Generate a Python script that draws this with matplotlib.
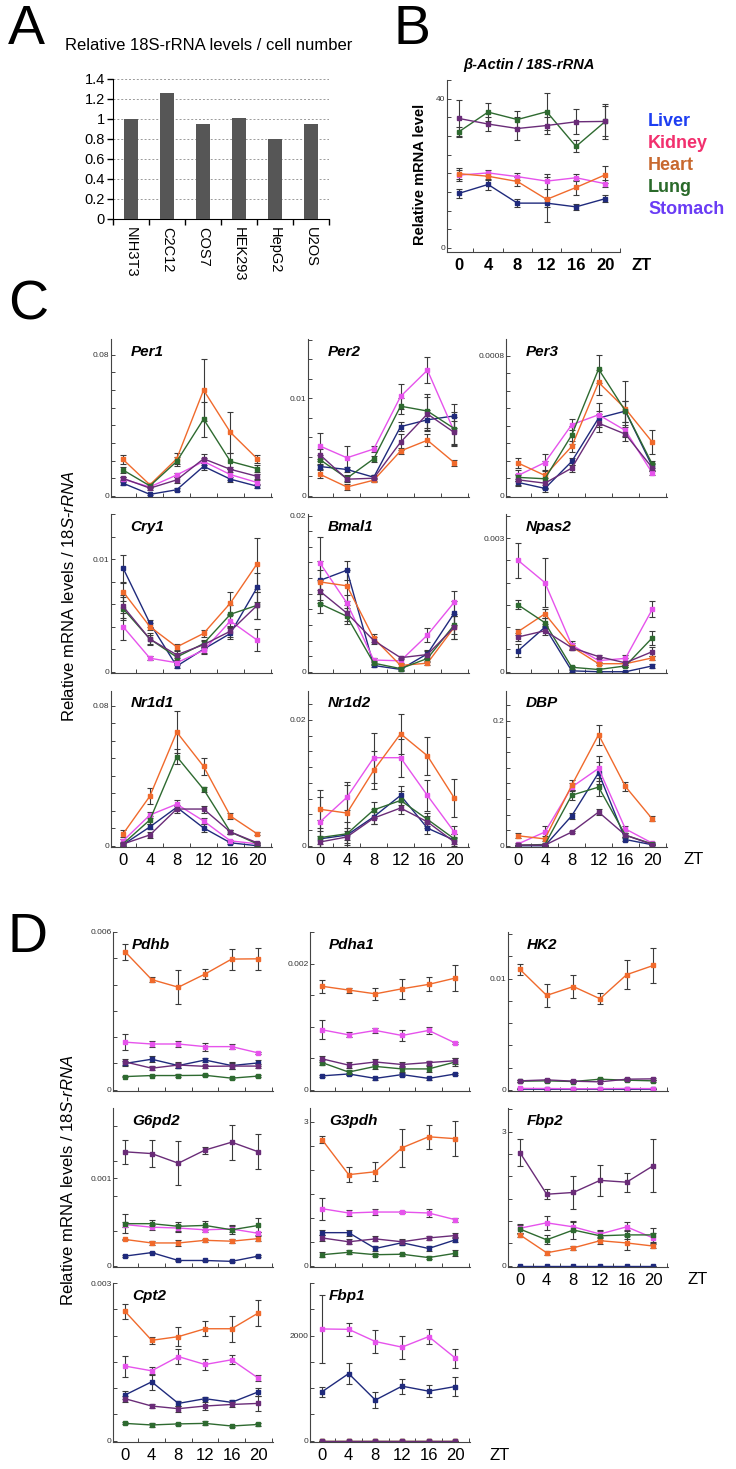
import matplotlib
matplotlib.use("Agg")
import matplotlib.pyplot as plt
from matplotlib.ticker import MultipleLocator

plt.rcParams['font.family'] = ['Liberation Sans', 'DejaVu Sans']
plt.rcParams['mathtext.fontset'] = 'custom'
plt.rcParams['mathtext.rm'] = 'Liberation Sans'
plt.rcParams['mathtext.it'] = 'Liberation Sans:italic'

#%% data
cell_lines = ["NIH3T3", "C2C12", "COS7", "HEK293", "HepG2", "U2OS"]
rrna_per_cell = [1.0, 1.26, 0.95, 1.01, 0.80, 0.955]

zt = [0, 4, 8, 12, 16, 20]
tissues = ["Liver", "Kidney", "Heart", "Lung", "Stomach"]

# panel B
actin = {"Liver": [14.6, 17.0, 12.0, 12.0, 11.0, 13.2],
         "Kidney": [19.5, 20.1, 19.1, 17.9, 18.8, 17.2],
         "Heart": [19.9, 19.2, 17.8, 13.0, 16.2, 19.6],
         "Lung": [31.1, 36.4, 34.4, 36.5, 27.2, 33.9],
         "Stomach": [34.7, 33.2, 32.0, 32.8, 33.8, 33.9]}
actin_sd = {"Liver": [1.2, 1.5, 1.0, 1.0, 0.8, 1.0],
            "Kidney": [1.5, 0.8, 1.0, 2.0, 1.0, 1.0],
            "Heart": [1.5, 1.0, 1.2, 6.0, 2.0, 2.3],
            "Lung": [1.2, 2.4, 2.3, 5.0, 1.6, 4.6],
            "Stomach": [5.0, 2.0, 3.0, 2.4, 3.3, 4.0]}

# panel C - clock genes
per1 = {"Liver": [0.0071, 0.0008, 0.0034, 0.0167, 0.0094, 0.0054],
        "Kidney": [0.0094, 0.0050, 0.0118, 0.0195, 0.0120, 0.0075],
        "Heart": [0.0206, 0.0062, 0.0210, 0.0600, 0.0360, 0.0210],
        "Lung": [0.0146, 0.0056, 0.0195, 0.0435, 0.0195, 0.0154],
        "Stomach": [0.0099, 0.0043, 0.0090, 0.0210, 0.0150, 0.0110]}
per1_sd = {"Liver": [0.0008, 0.0005, 0.0008, 0.0020, 0.0015, 0.0012],
           "Kidney": [0.0010, 0.0008, 0.0010, 0.0020, 0.0030, 0.0015],
           "Heart": [0.0024, 0.0008, 0.0030, 0.0174, 0.0118, 0.0023],
           "Lung": [0.0019, 0.0008, 0.0025, 0.0099, 0.0045, 0.0020],
           "Stomach": [0.0010, 0.0008, 0.0015, 0.0025, 0.0015, 0.0015]}

per2 = {"Liver": [0.0030, 0.0027, 0.0019, 0.0071, 0.0078, 0.0082],
        "Kidney": [0.0051, 0.0039, 0.0048, 0.0102, 0.0129, 0.0066],
        "Heart": [0.0022, 0.0009, 0.0016, 0.0046, 0.0057, 0.0034],
        "Lung": [0.0037, 0.0018, 0.0038, 0.0092, 0.0087, 0.0069],
        "Stomach": [0.0042, 0.0017, 0.0018, 0.0055, 0.0084, 0.0065]}
per2_sd = {"Liver": [0.0003, 0.0003, 0.0002, 0.0005, 0.0010, 0.0012],
           "Kidney": [0.0013, 0.0012, 0.0003, 0.0013, 0.0013, 0.0015],
           "Heart": [0.0004, 0.0003, 0.0002, 0.0003, 0.0006, 0.0003],
           "Lung": [0.0005, 0.0003, 0.0003, 0.0008, 0.0017, 0.0017],
           "Stomach": [0.0006, 0.0003, 0.0003, 0.0008, 0.0017, 0.0012]}

per3 = {"Liver": [0.000076, 0.000042, 0.000196, 0.000444, 0.000484, 0.000168],
        "Kidney": [0.000116, 0.000190, 0.000406, 0.000463, 0.000373, 0.000130],
        "Heart": [0.000187, 0.000116, 0.000282, 0.000648, 0.000497, 0.000307],
        "Lung": [0.000105, 0.000097, 0.000347, 0.000724, 0.000484, 0.000181],
        "Stomach": [0.000091, 0.000072, 0.000158, 0.000415, 0.000352, 0.000160]}
per3_sd = {"Liver": [0.00002, 0.00002, 0.00002, 0.00004, 0.00006, 0.00002],
           "Kidney": [0.00003, 0.00005, 0.00003, 0.00007, 0.00003, 0.00001],
           "Heart": [0.00003, 0.00008, 0.00003, 0.00007, 0.00016, 0.00007],
           "Lung": [0.00002, 0.00005, 0.00005, 0.00008, 0.00006, 0.00002],
           "Stomach": [0.00003, 0.00003, 0.00002, 0.00005, 0.00004, 0.00002]}

cry1 = {"Liver": [0.0092, 0.0043, 0.0005, 0.0020, 0.0034, 0.0075],
        "Kidney": [0.0040, 0.0012, 0.0008, 0.0019, 0.0045, 0.0028],
        "Heart": [0.0071, 0.0040, 0.0022, 0.0034, 0.0061, 0.0096],
        "Lung": [0.0056, 0.0029, 0.0013, 0.0025, 0.0051, 0.0059],
        "Stomach": [0.0058, 0.0029, 0.0015, 0.0024, 0.0036, 0.0059]}
cry1_sd = {"Liver": [0.0012, 0.0003, 0.0002, 0.0003, 0.0005, 0.0013],
           "Kidney": [0.0012, 0.0002, 0.0002, 0.0003, 0.0005, 0.0010],
           "Heart": [0.0008, 0.0003, 0.0003, 0.0003, 0.0010, 0.0023],
           "Lung": [0.0010, 0.0004, 0.0003, 0.0003, 0.0008, 0.0012],
           "Stomach": [0.0010, 0.0005, 0.0003, 0.0003, 0.0005, 0.0012]}

bmal1 = {"Liver": [0.0117, 0.0130, 0.0008, 0.0003, 0.0023, 0.0075],
         "Kidney": [0.0139, 0.0088, 0.0015, 0.0014, 0.0047, 0.0089],
         "Heart": [0.0115, 0.0110, 0.0043, 0.0008, 0.0011, 0.0057],
         "Lung": [0.0087, 0.0071, 0.0011, 0.0004, 0.0017, 0.0060],
         "Stomach": [0.0103, 0.0075, 0.0040, 0.0018, 0.0022, 0.0057]}
bmal1_sd = {"Liver": [0.0025, 0.0012, 0.0002, 0.0002, 0.0005, 0.0015],
            "Kidney": [0.0034, 0.0010, 0.0003, 0.0003, 0.0009, 0.0015],
            "Heart": [0.0015, 0.0020, 0.0005, 0.0002, 0.0003, 0.0015],
            "Lung": [0.0012, 0.0010, 0.0003, 0.0002, 0.0004, 0.0012],
            "Stomach": [0.0015, 0.0010, 0.0005, 0.0002, 0.0005, 0.0015]}

npas2 = {"Liver": [0.00047, 0.00100, 0.00002, 0.0, 0.0, 0.00013],
         "Kidney": [0.00250, 0.00200, 0.00060, 0.00025, 0.00030, 0.00140],
         "Heart": [0.00090, 0.00130, 0.00056, 0.00018, 0.00018, 0.00031],
         "Lung": [0.00150, 0.00110, 0.00010, 0.00005, 0.00013, 0.00076],
         "Stomach": [0.00078, 0.00092, 0.00054, 0.00034, 0.00020, 0.00045]}
npas2_sd = {"Liver": [0.00015, 0.00008, 0.00002, 0.00001, 0.00001, 0.00004],
            "Kidney": [0.00040, 0.00055, 0.00010, 0.00005, 0.00008, 0.00018],
            "Heart": [0.00007, 0.00010, 0.00008, 0.00004, 0.00004, 0.00005],
            "Lung": [0.00010, 0.00010, 0.00003, 0.00003, 0.00003, 0.00015],
            "Stomach": [0.00010, 0.00010, 0.00005, 0.00004, 0.00010, 0.00010]}

nr1d1 = {"Liver": [0.0006, 0.0108, 0.0220, 0.0102, 0.0017, 0.0000],
         "Kidney": [0.0028, 0.0176, 0.0238, 0.0142, 0.0028, 0.0011],
         "Heart": [0.0068, 0.0284, 0.0650, 0.0454, 0.0170, 0.0068],
         "Lung": [0.0011, 0.0148, 0.0510, 0.0323, 0.0079, 0.0011],
         "Stomach": [0.0010, 0.0062, 0.0210, 0.0210, 0.0079, 0.0017]}
nr1d1_sd = {"Liver": [0.0005, 0.0015, 0.0015, 0.0025, 0.0005, 0.0003],
            "Kidney": [0.0010, 0.0015, 0.0025, 0.0015, 0.0005, 0.0005],
            "Heart": [0.0020, 0.0047, 0.0120, 0.0047, 0.0015, 0.0008],
            "Lung": [0.0010, 0.0025, 0.0045, 0.0015, 0.0010, 0.0005],
            "Stomach": [0.0005, 0.0015, 0.0020, 0.0020, 0.0010, 0.0005]}

nr1d2 = {"Liver": [0.0011, 0.0017, 0.0046, 0.0080, 0.0028, 0.0009],
         "Kidney": [0.0038, 0.0077, 0.0140, 0.0140, 0.0080, 0.0022],
         "Heart": [0.0058, 0.0052, 0.0120, 0.0178, 0.0143, 0.0076],
         "Lung": [0.0013, 0.0019, 0.0057, 0.0072, 0.0042, 0.0011],
         "Stomach": [0.0006, 0.0014, 0.0044, 0.0060, 0.0038, 0.0006]}
nr1d2_sd = {"Liver": [0.0030, 0.0020, 0.0012, 0.0015, 0.0010, 0.0010],
            "Kidney": [0.0040, 0.0020, 0.0040, 0.0030, 0.0025, 0.0010],
            "Heart": [0.0030, 0.0050, 0.0030, 0.0032, 0.0030, 0.0030],
            "Lung": [0.0010, 0.0010, 0.0013, 0.0015, 0.0010, 0.0008],
            "Stomach": [0.0010, 0.0010, 0.0010, 0.0010, 0.0010, 0.0008]}

dbp = {"Liver": [0.000, 0.000, 0.048, 0.117, 0.010, 0.0016],
       "Kidney": [0.003, 0.022, 0.094, 0.124, 0.027, 0.0042],
       "Heart": [0.016, 0.011, 0.097, 0.178, 0.095, 0.043],
       "Lung": [0.001, 0.002, 0.081, 0.094, 0.017, 0.003],
       "Stomach": [0.001, 0.001, 0.022, 0.054, 0.017, 0.002]}
dbp_sd = {"Liver": [0.001, 0.001, 0.005, 0.018, 0.002, 0.001],
          "Kidney": [0.002, 0.010, 0.006, 0.020, 0.004, 0.002],
          "Heart": [0.004, 0.004, 0.008, 0.016, 0.007, 0.004],
          "Lung": [0.001, 0.002, 0.008, 0.014, 0.003, 0.001],
          "Stomach": [0.001, 0.001, 0.002, 0.005, 0.003, 0.001]}

# panel D - metabolic genes
pdhb = {"Liver": [0.00100, 0.00116, 0.00092, 0.00113, 0.00092, 0.00102],
        "Kidney": [0.00181, 0.00174, 0.00174, 0.00164, 0.00164, 0.00140],
        "Heart": [0.00525, 0.00419, 0.00390, 0.00440, 0.00497, 0.00498],
        "Lung": [0.00050, 0.00054, 0.00054, 0.00055, 0.00044, 0.00052],
        "Stomach": [0.00106, 0.00082, 0.00094, 0.00089, 0.00090, 0.00090]}
pdhb_sd = {"Liver": [0.00010, 0.00012, 0.00010, 0.00008, 0.00012, 0.00010],
           "Kidney": [0.00030, 0.00013, 0.00010, 0.00015, 0.00010, 0.00005],
           "Heart": [0.00030, 0.00010, 0.00065, 0.00020, 0.00040, 0.00043],
           "Lung": [0.00003, 0.00003, 0.00004, 0.00003, 0.00004, 0.00004],
           "Stomach": [0.00010, 0.00008, 0.00010, 0.00006, 0.00010, 0.00008]}

pdha1 = {"Liver": [0.00022, 0.00025, 0.00018, 0.00024, 0.00018, 0.00025],
         "Kidney": [0.00095, 0.00087, 0.00094, 0.00086, 0.00094, 0.00074],
         "Heart": [0.00164, 0.00158, 0.00152, 0.00160, 0.00167, 0.00177],
         "Lung": [0.00043, 0.00028, 0.00037, 0.00033, 0.00033, 0.00044],
         "Stomach": [0.00049, 0.00039, 0.00044, 0.00040, 0.00043, 0.00046]}
pdha1_sd = {"Liver": [0.00002, 0.00002, 0.00002, 0.00002, 0.00002, 0.00002],
            "Kidney": [0.00015, 0.00004, 0.00004, 0.00009, 0.00005, 0.00002],
            "Heart": [0.00010, 0.00004, 0.00010, 0.00016, 0.00011, 0.00020],
            "Lung": [0.00004, 0.00004, 0.00004, 0.00005, 0.00005, 0.00006],
            "Stomach": [0.00005, 0.00005, 0.00004, 0.00004, 0.00003, 0.00005]}

hk2 = {"Liver": [0.00005, 0.00004, 0.00005, 0.00005, 0.00004, 0.00005],
       "Kidney": [0.00012, 0.00011, 0.00009, 0.00010, 0.00011, 0.00010],
       "Heart": [0.01083, 0.00849, 0.00929, 0.00819, 0.01036, 0.01119],
       "Lung": [0.00077, 0.00080, 0.00074, 0.00095, 0.00086, 0.00080],
       "Stomach": [0.00080, 0.00089, 0.00077, 0.00071, 0.00095, 0.00098]}
hk2_sd = {"Liver": [0.00002, 0.00002, 0.00002, 0.00002, 0.00002, 0.00002],
          "Kidney": [0.00003, 0.00003, 0.00003, 0.00003, 0.00003, 0.00003],
          "Heart": [0.00050, 0.00100, 0.00100, 0.00050, 0.00130, 0.00160],
          "Lung": [0.00008, 0.00008, 0.00008, 0.00010, 0.00008, 0.00008],
          "Stomach": [0.00008, 0.00010, 0.00008, 0.00008, 0.00010, 0.00010]}

g6pd2 = {"Liver": [0.00011, 0.00015, 0.00006, 0.00006, 0.00005, 0.00011],
         "Kidney": [0.00047, 0.00044, 0.00043, 0.00041, 0.00042, 0.00037],
         "Heart": [0.00030, 0.00026, 0.00026, 0.00029, 0.00028, 0.00031],
         "Lung": [0.00048, 0.00048, 0.00045, 0.00046, 0.00041, 0.00046],
         "Stomach": [0.00130, 0.00128, 0.00117, 0.00132, 0.00141, 0.00130]}
g6pd2_sd = {"Liver": [0.00001, 0.00001, 0.00001, 0.00001, 0.00001, 0.00001],
            "Kidney": [0.00003, 0.00003, 0.00004, 0.00003, 0.00003, 0.00002],
            "Heart": [0.00001, 0.00002, 0.00003, 0.00002, 0.00002, 0.00003],
            "Lung": [0.00011, 0.00004, 0.00005, 0.00005, 0.00005, 0.00008],
            "Stomach": [0.00014, 0.00015, 0.00025, 0.00004, 0.00020, 0.00020]}

g3pdh = {"Liver": [0.69, 0.69, 0.36, 0.48, 0.36, 0.54],
         "Kidney": [1.19, 1.10, 1.12, 1.12, 1.10, 0.96],
         "Heart": [2.63, 1.90, 1.96, 2.46, 2.69, 2.65],
         "Lung": [0.23, 0.28, 0.23, 0.24, 0.17, 0.26],
         "Stomach": [0.58, 0.50, 0.56, 0.50, 0.58, 0.63]}
g3pdh_sd = {"Liver": [0.05, 0.06, 0.05, 0.05, 0.05, 0.05],
            "Kidney": [0.23, 0.07, 0.07, 0.03, 0.08, 0.04],
            "Heart": [0.08, 0.15, 0.20, 0.40, 0.25, 0.37],
            "Lung": [0.05, 0.04, 0.03, 0.03, 0.03, 0.06],
            "Stomach": [0.06, 0.05, 0.05, 0.05, 0.05, 0.06]}

fbp2 = {"Liver": [0.0, 0.0, 0.0, 0.0, 0.0, 0.0],
        "Kidney": [0.84, 0.96, 0.87, 0.71, 0.87, 0.62],
        "Heart": [0.69, 0.29, 0.40, 0.56, 0.51, 0.44],
        "Lung": [0.82, 0.58, 0.80, 0.67, 0.69, 0.69],
        "Stomach": [2.53, 1.60, 1.64, 1.91, 1.87, 2.24]}
fbp2_sd = {"Liver": [0.0, 0.0, 0.0, 0.0, 0.0, 0.0],
           "Kidney": [0.10, 0.15, 0.10, 0.10, 0.10, 0.12],
           "Heart": [0.05, 0.05, 0.05, 0.08, 0.15, 0.05],
           "Lung": [0.10, 0.10, 0.20, 0.10, 0.10, 0.15],
           "Stomach": [0.30, 0.11, 0.37, 0.35, 0.21, 0.60]}

cpt2 = {"Liver": [0.00087, 0.00112, 0.00071, 0.00080, 0.00073, 0.00093],
        "Kidney": [0.00142, 0.00133, 0.00160, 0.00145, 0.00154, 0.00119],
        "Heart": [0.00246, 0.00191, 0.00198, 0.00213, 0.00213, 0.00243],
        "Lung": [0.00033, 0.00030, 0.00032, 0.00033, 0.00028, 0.00031],
        "Stomach": [0.00080, 0.00066, 0.00061, 0.00066, 0.00069, 0.00071]}
cpt2_sd = {"Liver": [0.00007, 0.00015, 0.00004, 0.00003, 0.00004, 0.00008],
           "Kidney": [0.00020, 0.00008, 0.00014, 0.00010, 0.00009, 0.00006],
           "Heart": [0.00014, 0.00007, 0.00018, 0.00014, 0.00025, 0.00024],
           "Lung": [0.00002, 0.00003, 0.00002, 0.00004, 0.00002, 0.00003],
           "Stomach": [0.00006, 0.00004, 0.00006, 0.00007, 0.00005, 0.00015]}

fbp1 = {"Liver": [931, 1277, 774, 1038, 943, 1031],
        "Kidney": [2126, 2119, 1887, 1780, 1981, 1572],
        "Heart": [0, 0, 0, 0, 0, 0],
        "Lung": [0, 0, 0, 0, 0, 0],
        "Stomach": [0, 0, 0, 0, 0, 0]}
fbp1_sd = {"Liver": [100, 200, 160, 140, 110, 180],
           "Kidney": [650, 120, 220, 220, 140, 180],
           "Heart": [0, 0, 0, 0, 0, 0],
           "Lung": [0, 0, 0, 0, 0, 0],
           "Stomach": [0, 0, 0, 0, 0, 0]}

#%% styles
line_colors = {"Liver": "#1f2a7c", "Kidney": "#e653ec", "Heart": "#f06a2c",
               "Lung": "#2e6a30", "Stomach": "#6a2c78"}
legend_colors = {"Liver": "#1d3ef2", "Kidney": "#f2306e", "Heart": "#c8692f",
                 "Lung": "#2a6a2a", "Stomach": "#6a3cf5"}

W, H = 736, 1469
fig = plt.figure(figsize=(W / 100, H / 100), dpi=100)


def fx(x):
    return x / W


def fy(y):
    return 1 - y / H


def box(x0, y0, x1, y1):
    # axes from pixel corners (top-left origin)
    return fig.add_axes([x0 / W, 1 - y1 / H, (x1 - x0) / W, (y1 - y0) / H])


def timecourse(ax, means, errs, xlim, ymax, ymark, ymark_txt, step, showx, bold=False):
    for t in tissues:
        ax.errorbar(zt, means[t], yerr=errs[t], color=line_colors[t], ecolor="#3a3a3a",
                    elinewidth=0.8, capsize=2, capthick=0.8, marker="s", ms=2.2, lw=1.0)
    ax.set_xlim(*xlim)
    ax.set_ylim(-0.008 * ymax, ymax)
    for s in ["top", "right"]:
        ax.spines[s].set_visible(False)
    for s in ["left", "bottom"]:
        ax.spines[s].set_color("#444444")
        ax.spines[s].set_linewidth(0.8)
    ax.set_yticks([0, ymark])
    ax.set_yticklabels(["0", ymark_txt], fontsize=6, color="#333333")
    ax.yaxis.set_minor_locator(MultipleLocator(step))
    ax.tick_params(axis="y", which="both", direction="in", length=3, width=0.7, pad=1,
                   color="#444444")
    ax.set_xticks(zt)
    ax.set_xticks([2, 6, 10, 14, 18, 22], minor=True)
    ax.tick_params(axis="x", which="major", length=0, pad=4)
    ax.tick_params(axis="x", which="minor", direction="in", length=3, width=0.7,
                   color="#444444")
    if showx:
        ax.set_xticklabels([str(v) for v in zt], fontsize=12,
                           fontweight="bold" if bold else "normal")
    else:
        ax.set_xticklabels([])


#%% panel A
axA = box(113, 79, 329, 219)
axA.bar(range(len(cell_lines)), rrna_per_cell, width=0.4, color="#565656", zorder=3)
axA.set_xlim(-0.5, 5.5)
axA.set_ylim(0, 1.4)
yt = [0, 0.2, 0.4, 0.6, 0.8, 1.0, 1.2, 1.4]
axA.set_yticks(yt)
axA.set_yticklabels([f"{v:g}" for v in yt], fontsize=10.5)
axA.yaxis.grid(True, ls=(0, (2, 2)), color="#9a9a9a", lw=0.7, zorder=0)
axA.set_xticks(range(len(cell_lines)))
axA.set_xticklabels(cell_lines, rotation=270, fontsize=10.5)
axA.set_xticks([-0.5, 0.5, 1.5, 2.5, 3.5, 4.5, 5.5], minor=True)
axA.tick_params(axis="x", which="major", length=0, pad=6)
axA.tick_params(axis="x", which="minor", direction="out", length=4, width=1)
axA.tick_params(axis="y", direction="out", length=4, width=1, pad=2)
for s in ["top", "right"]:
    axA.spines[s].set_visible(False)
fig.text(fx(8), fy(30), "A", fontsize=40, va="center")
fig.text(fx(65), fy(45), "Relative 18S-rRNA levels / cell number", fontsize=12, va="center")

#%% panel B
axB = box(447, 80, 620, 252)
timecourse(axB, actin, actin_sd, (-1.6, 20.9), 45, 40, "40", 5, True, bold=True)
axB.set_ylim(-1.1, 45)
fig.text(fx(394), fy(30), "B", fontsize=40, va="center")
fig.text(fx(529), fy(65), "\u03b2-Actin / 18S-rRNA", fontsize=10.5, fontweight="bold",
         fontstyle="italic", ha="center", va="center")
fig.text(fx(420), fy(174), "Relative mRNA level", rotation=90, fontsize=10.5,
         fontweight="bold", ha="center", va="center")
fig.text(fx(632), fy(265), "ZT", fontsize=12, fontweight="bold", va="center")
for t, yy in zip(tissues, [122, 144, 166, 187, 209]):
    fig.text(fx(648), fy(yy), t, color=legend_colors[t], fontsize=13,
             fontweight="bold", va="center")

#%% panel C
ylab = "Relative mRNA levels / $\\mathit{18S}$-$\\mathit{rRNA}$"
c_cols = [111, 308, 506]
c_rows = [(339, 497), (514, 673), (691, 847)]
c_panels = [("Per1", per1, per1_sd, 0.089, 0.08, "0.08", 0.01),
            ("Per2", per2, per2_sd, 0.0161, 0.01, "0.01", 0.002),
            ("Per3", per3, per3_sd, 0.000896, 0.0008, "0.0008", 0.0001),
            ("Cry1", cry1, cry1_sd, 0.014, 0.01, "0.01", 0.002),
            ("Bmal1", bmal1, bmal1_sd, 0.0202, 0.02, "0.02", 0.002),
            ("Npas2", npas2, npas2_sd, 0.00354, 0.003, "0.003", 0.0005),
            ("Nr1d1", nr1d1, nr1d1_sd, 0.0885, 0.08, "0.08", 0.01),
            ("Nr1d2", nr1d2, nr1d2_sd, 0.0246, 0.02, "0.02", 0.0025),
            ("DBP", dbp, dbp_sd, 0.248, 0.2, "0.2", 0.025)]
for i, (name, m, e, ymax, mark, mtxt, step) in enumerate(c_panels):
    r, c = divmod(i, 3)
    ax = box(c_cols[c], c_rows[r][0], c_cols[c] + 161, c_rows[r][1])
    timecourse(ax, m, e, (-1.8, 22.2), ymax, mark, mtxt, step, r == 2)
    ax.text(0.12, 0.92, name, transform=ax.transAxes, fontsize=11, fontweight="bold",
            fontstyle="italic", va="center")
fig.text(fx(8), fy(306), "C", fontsize=40, va="center")
fig.text(fx(69), fy(596), ylab, rotation=90, fontsize=12, ha="center", va="center")
fig.text(fx(683), fy(860), "ZT", fontsize=12, va="center")

#%% panel D
d_cols = [113, 310, 508]
d_rows = [(932, 1091), (1108, 1267), (1283, 1442)]
d_panels = [("Pdhb", pdhb, pdhb_sd, 0.006, 0.006, "0.006", 0.001),
            ("Pdha1", pdha1, pdha1_sd, 0.0025, 0.002, "0.002", 0.0005),
            ("HK2", hk2, hk2_sd, 0.0142, 0.01, "0.01", 0.002),
            ("G6pd2", g6pd2, g6pd2_sd, 0.0018, 0.001, "0.001", 0.0004),
            ("G3pdh", g3pdh, g3pdh_sd, 3.29, 3, "3", 0.5),
            ("Fbp2", fbp2, fbp2_sd, 3.53, 3, "3", 0.5),
            ("Cpt2", cpt2, cpt2_sd, 0.003, 0.003, "0.003", 0.0005),
            ("Fbp1", fbp1, fbp1_sd, 3000, 2000, "2000", 500)]
for i, (name, m, e, ymax, mark, mtxt, step) in enumerate(d_panels):
    r, c = divmod(i, 3)
    ax = box(d_cols[c], d_rows[r][0], d_cols[c] + 160, d_rows[r][1])
    timecourse(ax, m, e, (-1.8, 22.2), ymax, mark, mtxt, step, r == 2 or i == 5)
    ax.text(0.12, 0.92, name, transform=ax.transAxes, fontsize=11, fontweight="bold",
            fontstyle="italic", va="center")
fig.text(fx(8), fy(938), "D", fontsize=40, va="center")
fig.text(fx(68), fy(1180), ylab, rotation=90, fontsize=12, ha="center", va="center")
fig.text(fx(688), fy(1279), "ZT", fontsize=12, va="center")
fig.text(fx(490), fy(1455), "ZT", fontsize=12, va="center")

fig.savefig("out.png", dpi=100)
